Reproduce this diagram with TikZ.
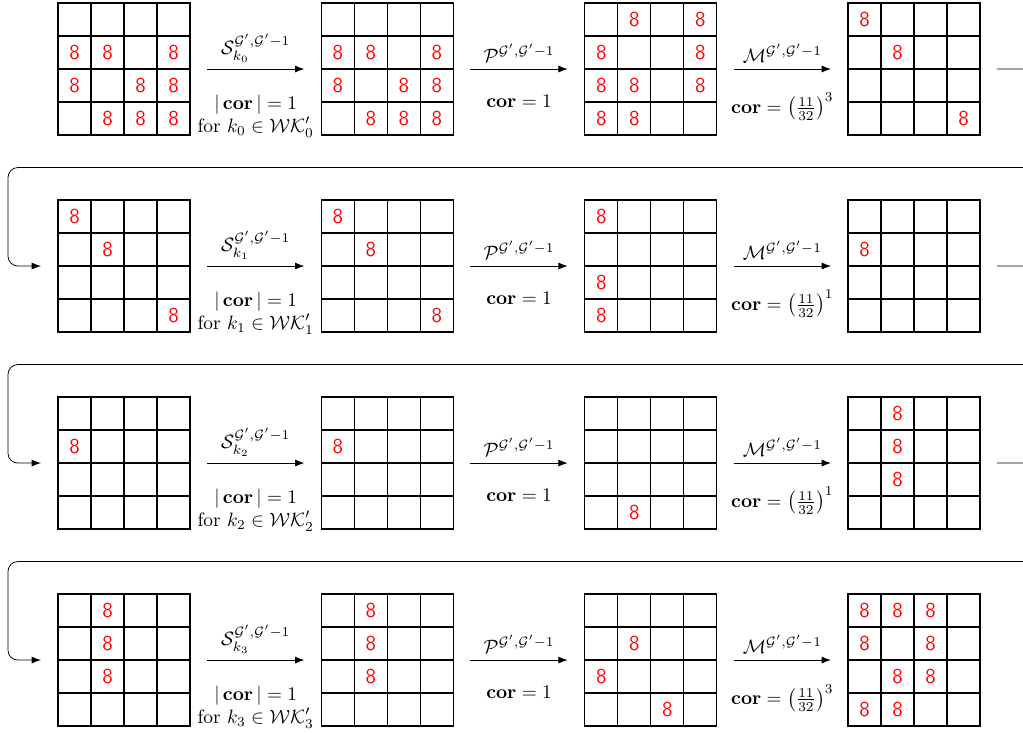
\documentclass[tikz,border=0pt]{standalone}
\usepackage{amsmath}
\usetikzlibrary{arrows.meta,calc}

\tikzset{
  gridbox/.style={draw, line width=0.6pt, minimum size=2.4cm, inner sep=0pt, outer sep=0pt},
  gridline/.style={line width=0.6pt},
  eight/.style={text=red, font=\fontsize{11}{13}\sffamily, inner sep=0pt},
  flow/.style={-{Latex}, line width=0.4pt},
  back/.style={flow, rounded corners=0.18cm}
}

\newcommand{\grid}[4]{%
  \node[gridbox, anchor=north west] (#1) at (#2,#3) {};
  \begin{scope}[shift={(#2,#3)}]
    \foreach \k in {1,2,3} {
      \draw[gridline] (\k*0.6,0) -- (\k*0.6,-2.4);
      \draw[gridline] (0,-\k*0.6) -- (2.4,-\k*0.6);
    }
    \foreach \r/\c in {#4}
      \node[eight] (#1-\r\c) at (\c*0.6-0.3,-\r*0.6+0.3) {8};
  \end{scope}
}

\begin{document}
\begin{tikzpicture}
\useasboundingbox (0,0) rectangle (18.6,-13.327);
\coordinate (lft) at (0.145,0);

\grid{g11}{1.055}{-0.055}{2/1,2/2,2/4,3/1,3/3,3/4,4/2,4/3,4/4}
\grid{g12}{5.843}{-0.055}{2/1,2/2,2/4,3/1,3/3,3/4,4/2,4/3,4/4}
\grid{g13}{10.631}{-0.055}{1/2,1/4,2/1,2/4,3/1,3/2,3/4,4/1,4/2}
\grid{g14}{15.418}{-0.055}{1/1,2/2,4/4}

\grid{g21}{1.055}{-3.637}{1/1,2/2,4/4}
\grid{g22}{5.843}{-3.637}{1/1,2/2,4/4}
\grid{g23}{10.631}{-3.637}{1/1,3/1,4/1}
\grid{g24}{15.418}{-3.637}{2/1}

\grid{g31}{1.055}{-7.219}{2/1}
\grid{g32}{5.843}{-7.219}{2/1}
\grid{g33}{10.631}{-7.219}{4/2}
\grid{g34}{15.418}{-7.219}{1/2,2/2,3/2}

\grid{g41}{1.055}{-10.801}{1/2,2/2,3/2}
\grid{g42}{5.843}{-10.801}{1/2,2/2,3/2}
\grid{g43}{10.631}{-10.801}{2/2,3/1,4/3}
\grid{g44}{15.418}{-10.801}{1/1,1/2,1/3,2/1,2/3,3/2,3/3,4/1,4/2}

\foreach \r/\e in {1/3,2/1,3/1,4/3} {
  \pgfmathtruncatemacro{\kk}{\r-1}
  \draw[flow] ([xshift=0.31cm]g\r1.east) --
    node[above] (s\r) {$\mathcal{S}^{\mathcal{G}',\mathcal{G}'-1}_{k_{\kk}}$}
    node[below=10pt, align=center] (sc\r) {$|\,\mathbf{cor}\,|=1$\\for $k_{\kk}\in\mathcal{WK}'_{\kk}$}
    ([xshift=-0.31cm]g\r2.west);
  \draw[flow] ([xshift=0.31cm]g\r2.east) --
    node[above] (p\r) {$\mathcal{P}^{\mathcal{G}',\mathcal{G}'-1}$}
    node[below=10pt] (pc\r) {$\mathbf{cor}=1$}
    ([xshift=-0.31cm]g\r3.west);
  \draw[flow] ([xshift=0.31cm]g\r3.east) --
    node[above] (m\r) {$\mathcal{M}^{\mathcal{G}',\mathcal{G}'-1}$}
    node[below=9pt] (mc\r) {$\mathbf{cor}=\left(\frac{11}{32}\right)^{\e}$}
    ([xshift=-0.31cm]g\r4.west);
}

\foreach \r/\n in {1/2,2/3,3/4} {
  \coordinate (mid\r) at ($(g\r4.south)!0.5!(g\n4.north)$);
  \draw[back] ([xshift=0.31cm]g\r4.east) -- ++(0.7,0) |- (lft |- mid\r)
    |- ([xshift=-0.31cm]g\n1.west);
}
\end{tikzpicture}
\end{document}
